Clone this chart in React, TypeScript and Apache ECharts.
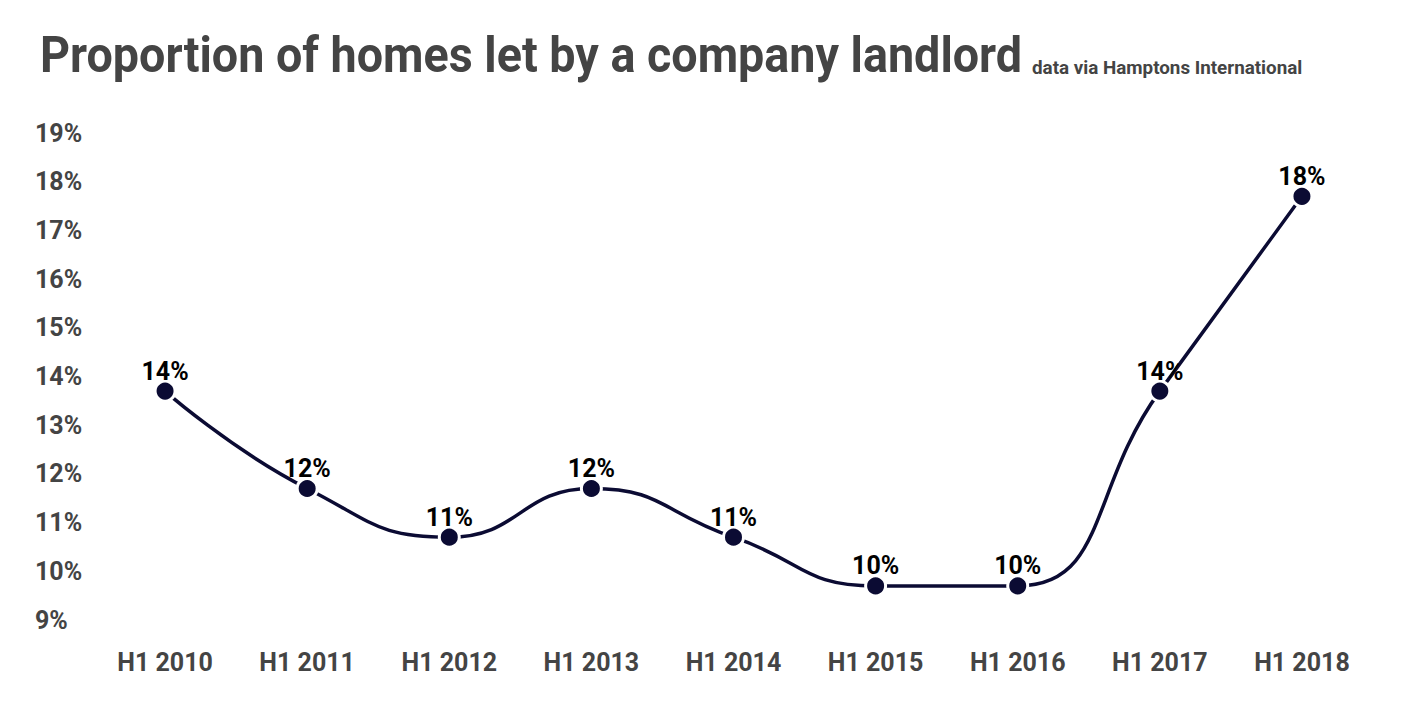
import React, { useEffect, useRef } from "react";
import * as echarts from "echarts";

const categories = ["H1 2010", "H1 2011", "H1 2012", "H1 2013", "H1 2014", "H1 2015", "H1 2016", "H1 2017", "H1 2018"];
const values = [13.7, 11.7, 10.7, 11.7, 10.7, 9.7, 9.7, 13.7, 17.7];
const titleText = "Proportion of homes let by a company landlord";
const subtitleText = "data via Hamptons International";

export default function App() {
  const ref = useRef<HTMLDivElement>(null);
  useEffect(() => {
    document.body.style.margin = "0";
    const chart = echarts.init(ref.current!, null, { renderer: "svg" });
    chart.setOption({
      animation: false,
      backgroundColor: "#ffffff",
      textStyle: { fontFamily: "Roboto" },
      graphic: [
        {
          type: "text",
          left: 40,
          top: 30,
          scaleX: 0.934,
          style: { text: titleText, fontFamily: "Roboto", fontWeight: "bold", fontSize: 50, fill: "#444444" },
        },
        {
          type: "text",
          left: 1032,
          top: 58,
          scaleX: 0.99,
          style: { text: subtitleText, fontFamily: "Roboto", fontWeight: "bold", fontSize: 19, fill: "#444444" },
        },
      ],
      grid: { left: 94, right: 31, top: 133, bottom: 88, containLabel: false },
      xAxis: {
        type: "category",
        data: categories,
        boundaryGap: true,
        axisLine: { show: false },
        axisTick: { show: false },
        axisLabel: { fontSize: 25, fontWeight: "bold", color: "#444444", margin: 30, fontFamily: "Roboto" },
        splitLine: { show: false },
      },
      yAxis: {
        type: "value",
        min: 9,
        max: 19,
        interval: 1,
        axisLine: { show: false },
        axisTick: { show: false },
        splitLine: { show: false },
        axisLabel: {
          formatter: (v: number) => v + "%",
          align: "left",
          margin: 59,
          fontSize: 25,
          fontWeight: "bold",
          color: "#444444",
          fontFamily: "Roboto",
        },
      },
      series: [
        {
          type: "line",
          data: values,
          smooth: 0.5,
          symbol: "circle",
          symbolSize: 20,
          lineStyle: { color: "#0b0b33", width: 3.5 },
          itemStyle: { color: "#0b0b33", borderColor: "#ffffff", borderWidth: 3 },
          label: {
            show: true,
            position: "top",
            distance: -4,
            formatter: (p: any) => Math.round(p.value) + "%",
            fontSize: 25,
            fontWeight: "bold",
            color: "#000000",
            fontFamily: "Roboto",
          },
        },
      ],
    });
    return () => chart.dispose();
  }, []);
  return <div ref={ref} style={{ width: 1404, height: 708 }} />;
}
